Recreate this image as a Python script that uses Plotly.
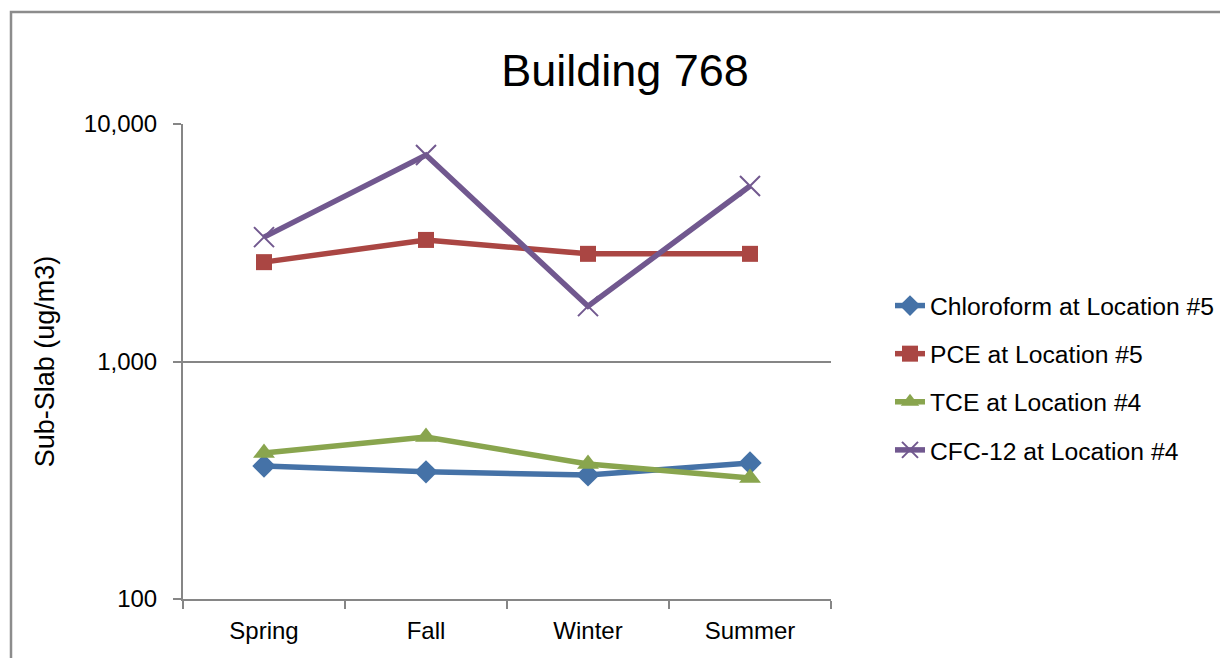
import plotly.graph_objects as go

seasons = ["Spring", "Fall", "Winter", "Summer"]
chloroform = [363, 343, 333, 374]
pce = [2620, 3250, 2840, 2840]
tce = [412, 481, 370, 323]
cfc12 = [3340, 7400, 1710, 5480]

y_tickvals = [100, 1000, 10000]
y_ticktext = ["100", "1,000", "10,000"]

FONT = "Liberation Sans, Arial, sans-serif"
GRAY = "#868686"

W, H = 1228, 658
L, T = 175, 116  # page body adds an 8px offset
PW, PH = 648, 475

fig = go.Figure()

series = [
    ("Chloroform at Location #5", chloroform, "#4572A7", dict(symbol="diamond", size=18)),
    ("PCE at Location #5", pce, "#AA4643", dict(symbol="square", size=16)),
    ("TCE at Location #4", tce, "#89A54E", dict(symbol="triangle-up", size=19)),
    ("CFC-12 at Location #4", cfc12, "#71588F", dict(symbol="x-thin", size=20)),
]

for i, (name, vals, color, mk) in enumerate(series):
    marker = dict(color=color, **mk)
    if mk["symbol"] == "x-thin":
        marker["line"] = dict(color=color, width=2)
    fig.add_trace(go.Scatter(
        x=seasons, y=vals, name=name, mode="lines+markers",
        line=dict(color=color, width=5.5),
        marker=marker, legendgroup=str(i),
    ))

fig.update_layout(
    width=W, height=H,
    margin=dict(l=L, r=W - L - PW, t=T, b=H - T - PH),
    paper_bgcolor="white", plot_bgcolor="white",
    font=dict(family=FONT, size=24, color="#000000"),
    title=dict(text="Building 768", x=617 / W, xanchor="center",
               y=1 - 62 / H, yanchor="middle",
               font=dict(family=FONT, size=45, color="#000000")),
    showlegend=True,
    legend=dict(x=(890 - 183) / PW, xanchor="left", y=(599 - 378) / PH, yanchor="middle",
                traceorder="grouped", tracegroupgap=13,
                font=dict(family=FONT, size=24.7, color="#000000"),
                bgcolor="rgba(0,0,0,0)"),
    shapes=[dict(type="rect", xref="paper", yref="paper",
                 x0=(11 - 183) / PW, x1=(1300 - 183) / PW,
                 y0=(599 - 720) / PH, y1=(599 - 12) / PH,
                 line=dict(color="#8c8c8c", width=2.5), layer="below")],
)

fig.update_xaxes(
    type="category", range=[-0.5, 3.5], automargin=False,
    showline=True, linecolor=GRAY, linewidth=2,
    ticks="outside", tickson="boundaries", ticklen=8, tickcolor=GRAY, tickwidth=2,
    showgrid=False, ticklabelstandoff=9,
    tickfont=dict(family=FONT, size=24, color="#000000"),
)
fig.update_yaxes(
    type="log", range=[2, 4], automargin=False,
    tickvals=y_tickvals, ticktext=y_ticktext,
    showline=True, linecolor=GRAY, linewidth=2,
    ticks="outside", ticklen=8, tickcolor=GRAY, tickwidth=2,
    showgrid=True, gridcolor=GRAY, gridwidth=1.5,
    zeroline=False, ticklabelstandoff=11,
    tickfont=dict(family=FONT, size=24, color="#000000"),
    title=dict(text="Sub-Slab (ug/m3)", standoff=21,
               font=dict(family=FONT, size=27, color="#000000")),
)

fig.write_html("out.html")
